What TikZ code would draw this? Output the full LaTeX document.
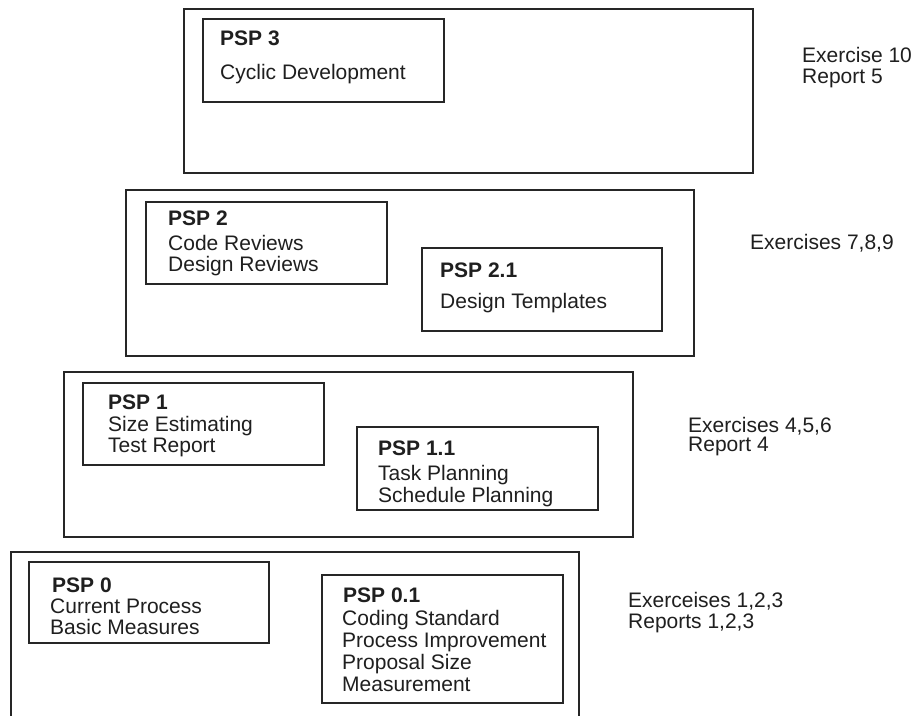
\documentclass[tikz,border=0pt]{standalone}
\usepackage{fontspec}
\setmainfont{Liberation Sans}
\begin{document}
\begin{tikzpicture}[x=1pt,y=-1pt,
  outerbox/.style={draw=black!85, line width=1.4pt, anchor=north west, inner sep=0pt, outer sep=0pt},
  innerbox/.style={draw=black!85, line width=1.6pt, anchor=north west, inner sep=0pt, outer sep=0pt},
  lbl/.style={anchor=base west, inner sep=0pt, font=\fontsize{21}{21}\selectfont, text=black!88},
  hd/.style={anchor=base west, inner sep=0pt, font=\fontsize{21}{21}\selectfont\bfseries, text=black!88}]
\useasboundingbox[fill=white] (0,0) rectangle (918,715);
\clip (0,0) rectangle (918,715);

% PSP 3
\node[outerbox, minimum width=569pt, minimum height=164pt] (o3) at (184,9) {};
\node[innerbox, minimum width=241pt, minimum height=83pt] (b3) at (203,19) {};
\node[hd] (t3) at (220,45) {PSP 3};
\node[lbl] (t3a) at (220,79) {Cyclic Development};
\node[lbl] (r3a) at (802,62) {Exercise 10};
\node[lbl] (r3b) at (802,83) {Report 5};

% PSP 2
\node[outerbox, minimum width=568pt, minimum height=166pt] (o2) at (126,190) {};
\node[innerbox, minimum width=241pt, minimum height=82pt] (b2) at (146,202) {};
\node[hd] (t2) at (168,225) {PSP 2};
\node[lbl] (t2a) at (168,250) {Code Reviews};
\node[lbl] (t2b) at (168,271) {Design Reviews};
\node[innerbox, minimum width=240pt, minimum height=83pt] (b21) at (422,248) {};
\node[hd] (t21) at (440,277) {PSP 2.1};
\node[lbl] (t21a) at (440,308) {Design Templates};
\node[lbl] (r2) at (750,249) {Exercises 7,8,9};

% PSP 1
\node[outerbox, minimum width=569pt, minimum height=165pt] (o1) at (64,372) {};
\node[innerbox, minimum width=241pt, minimum height=82pt] (b1) at (83,383) {};
\node[hd] (t1) at (108,409) {PSP 1};
\node[lbl] (t1a) at (108,431) {Size Estimating};
\node[lbl] (t1b) at (108,452) {Test Report};
\node[innerbox, minimum width=241pt, minimum height=83pt] (b11) at (357,427) {};
\node[hd] (t11) at (378,455) {PSP 1.1};
\node[lbl] (t11a) at (378,480) {Task Planning};
\node[lbl] (t11b) at (378,502) {Schedule Planning};
\node[lbl] (r1a) at (688,432) {Exercises 4,5,6};
\node[lbl] (r1b) at (688,451) {Report 4};

% PSP 0 (outer frame runs past the bottom edge)
\coordinate (o0a) at (11,720);
\coordinate (o0b) at (11,552);
\coordinate (o0c) at (579,552);
\coordinate (o0d) at (579,720);
\draw[draw=black!85, line width=1.4pt] (o0a) -- (o0b) -- (o0c) -- (o0d);
\node[innerbox, minimum width=240pt, minimum height=81pt] (b0) at (29,562) {};
\node[hd] (t0) at (52,592) {PSP 0};
\node[lbl] (t0a) at (50,613) {Current Process};
\node[lbl] (t0b) at (50,634) {Basic Measures};
\node[innerbox, line width=2pt, minimum width=241pt, minimum height=128pt] (b01) at (322,575) {};
\node[hd] (t01) at (343,602) {PSP 0.1};
\node[lbl] (t01a) at (342,625) {Coding Standard};
\node[lbl] (t01b) at (342,647) {Process Improvement};
\node[lbl] (t01c) at (342,669) {Proposal Size};
\node[lbl] (t01d) at (342,691) {Measurement};
\node[lbl] (r0a) at (628,607) {Exerceises 1,2,3};
\node[lbl] (r0b) at (628,628) {Reports 1,2,3};
\end{tikzpicture}
\end{document}
